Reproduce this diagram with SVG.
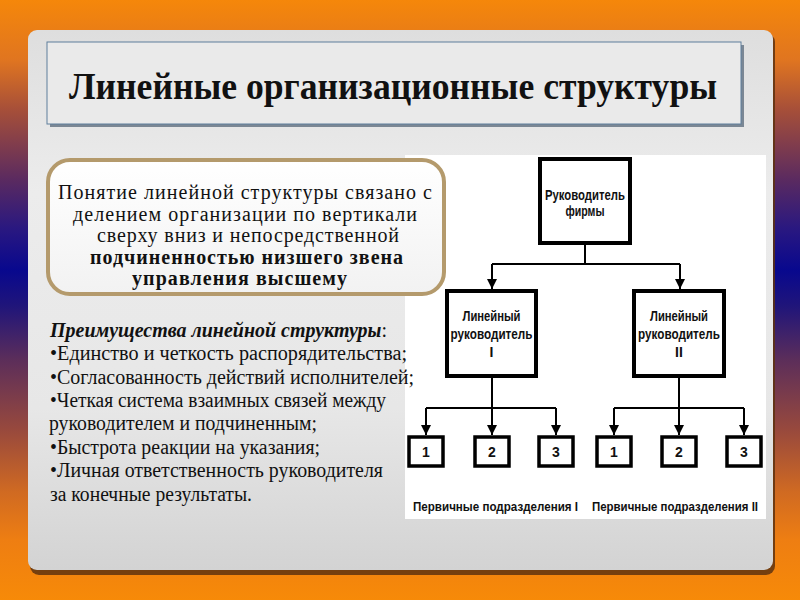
<svg xmlns="http://www.w3.org/2000/svg" width="800" height="600" viewBox="0 0 800 600">
<defs>
<linearGradient id="bg" x1="0" y1="0" x2="0" y2="1">
<stop offset="0" stop-color="#F5870A"/>
<stop offset="0.1" stop-color="#E07520"/>
<stop offset="0.18" stop-color="#A85038"/>
<stop offset="0.3" stop-color="#5A2A60"/>
<stop offset="0.38" stop-color="#2A1880"/>
<stop offset="0.45" stop-color="#08088E"/>
<stop offset="0.51" stop-color="#20157A"/>
<stop offset="0.6" stop-color="#5C2E5A"/>
<stop offset="0.72" stop-color="#9A4A3C"/>
<stop offset="0.82" stop-color="#D06A22"/>
<stop offset="0.9" stop-color="#EE7E12"/>
<stop offset="1" stop-color="#F78A08"/>
</linearGradient>
<linearGradient id="panel" x1="0" y1="0" x2="0" y2="1">
<stop offset="0" stop-color="#DEDEDE"/>
<stop offset="0.3" stop-color="#ECECEC"/>
<stop offset="0.7" stop-color="#E7E7E7"/>
<stop offset="1" stop-color="#D3D3D3"/>
</linearGradient>
<linearGradient id="concept" x1="0" y1="0" x2="0" y2="1">
<stop offset="0" stop-color="#FFFFFF"/>
<stop offset="1" stop-color="#F2F2F2"/>
</linearGradient>
<marker id="arr" viewBox="0 0 10 10" refX="10" refY="5" markerWidth="10" markerHeight="12" markerUnits="userSpaceOnUse" orient="auto">
<path d="M0,0 L10,5 L0,10 Z" fill="#000"/>
</marker>
<style>
.serif{font-family:"Liberation Serif","Times New Roman",serif;fill:#111;}
.sans{font-family:"Liberation Sans",Arial,sans-serif;fill:#111;font-weight:bold;}
.box{fill:#fff;stroke:#000;stroke-width:4;}
.sbox{fill:#fff;stroke:#000;stroke-width:3.5;}
.conn{fill:none;stroke:#000;stroke-width:2;}
.lbl{font-size:14px;text-anchor:middle;}
.dig{font-size:14px;text-anchor:middle;}
.cap{font-size:13px;}
.adv{font-size:20px;}
.cpt{font-size:20px;}
</style>
</defs>
<rect x="0" y="0" width="800" height="600" fill="url(#bg)"/>
<g id="panel-bg">
<rect x="30" y="33" width="745" height="542" rx="9" fill="#5E3210" opacity="0.85"/>
<rect x="28" y="30" width="745" height="540" rx="9" fill="url(#panel)"/>
</g>
<g id="title">
<rect x="50" y="45" width="694" height="82" fill="#7B8794"/>
<rect x="47" y="42" width="694" height="82" fill="#EAEAEA" stroke="#5F7F9C" stroke-width="1"/>
<text class="serif" x="69" y="99" font-size="37" font-weight="bold" textLength="648" lengthAdjust="spacingAndGlyphs">Линейные организационные структуры</text>
</g>
<rect id="chart-bg" x="405" y="155" width="361" height="364" fill="#FFFFFF"/>
<g id="concept-box">
<rect x="48" y="160" width="396" height="134" rx="22" fill="url(#concept)" stroke="#B49A6C" stroke-width="4"/>
<text class="serif cpt" x="58" y="199" textLength="374">Понятие линейной структуры связано с</text>
<text class="serif cpt" x="73" y="221" textLength="344">делением организации по вертикали</text>
<text class="serif cpt" x="97" y="242" textLength="302">сверху вниз и непосредственной</text>
<text class="serif cpt" x="90" y="264" font-weight="bold" textLength="313">подчиненностью низшего звена</text>
<text class="serif cpt" x="132" y="285" font-weight="bold" textLength="215">управления высшему</text>
</g>
<g id="advantages">
<text class="serif adv" x="50" y="337" textLength="337" lengthAdjust="spacingAndGlyphs"><tspan font-weight="bold" font-style="italic">Преимущества линейной структуры</tspan>:</text>
<text class="serif adv" x="50" y="360" textLength="357" lengthAdjust="spacingAndGlyphs">•Единство и четкость распорядительства;</text>
<text class="serif adv" x="50" y="384" textLength="364" lengthAdjust="spacingAndGlyphs">•Согласованность действий исполнителей;</text>
<text class="serif adv" x="50" y="407" textLength="336" lengthAdjust="spacingAndGlyphs">•Четкая система взаимных связей между</text>
<text class="serif adv" x="49" y="430" textLength="268" lengthAdjust="spacingAndGlyphs">руководителем и подчиненным;</text>
<text class="serif adv" x="50" y="454" textLength="270" lengthAdjust="spacingAndGlyphs">•Быстрота реакции на указания;</text>
<text class="serif adv" x="50" y="477" textLength="333" lengthAdjust="spacingAndGlyphs">•Личная ответственность руководителя</text>
<text class="serif adv" x="50" y="501" textLength="202" lengthAdjust="spacingAndGlyphs">за конечные результаты.</text>
</g>
<g id="connectors">
<path class="conn" d="M585,245 V264 M492,264 H680"/>
<path class="conn" d="M492,264 V289" marker-end="url(#arr)"/>
<path class="conn" d="M680,264 V289" marker-end="url(#arr)"/>
<path class="conn" d="M492,378 V408 M426,408 H556"/>
<path class="conn" d="M426,408 V435" marker-end="url(#arr)"/>
<path class="conn" d="M492,408 V435" marker-end="url(#arr)"/>
<path class="conn" d="M556,408 V435" marker-end="url(#arr)"/>
<path class="conn" d="M679,378 V408 M614,408 H744"/>
<path class="conn" d="M614,408 V435" marker-end="url(#arr)"/>
<path class="conn" d="M679,408 V435" marker-end="url(#arr)"/>
<path class="conn" d="M744,408 V435" marker-end="url(#arr)"/>
</g>
<g id="node-head">
<rect class="box" x="540" y="159" width="90" height="84"/>
<text class="sans lbl" x="585" y="200" textLength="80" lengthAdjust="spacingAndGlyphs">Руководитель</text>
<text class="sans lbl" x="585" y="216" textLength="39" lengthAdjust="spacingAndGlyphs">фирмы</text>
</g>
<g id="node-line1">
<rect class="box" x="447" y="291" width="89" height="85"/>
<text class="sans lbl" x="491.5" y="321" textLength="58" lengthAdjust="spacingAndGlyphs">Линейный</text>
<text class="sans lbl" x="491.5" y="339" textLength="82" lengthAdjust="spacingAndGlyphs">руководитель</text>
<text class="sans lbl" x="491.5" y="357">I</text>
</g>
<g id="node-line2">
<rect class="box" x="634" y="291" width="90" height="85"/>
<text class="sans lbl" x="679" y="321" textLength="58" lengthAdjust="spacingAndGlyphs">Линейный</text>
<text class="sans lbl" x="679" y="339" textLength="82" lengthAdjust="spacingAndGlyphs">руководитель</text>
<text class="sans lbl" x="679" y="357">II</text>
</g>
<g id="node-1-1"><rect class="sbox" x="409" y="437" width="34" height="29"/><text class="sans dig" x="426" y="457">1</text></g>
<g id="node-1-2"><rect class="sbox" x="475" y="437" width="34" height="29"/><text class="sans dig" x="492" y="457">2</text></g>
<g id="node-1-3"><rect class="sbox" x="539" y="437" width="34" height="29"/><text class="sans dig" x="556" y="457">3</text></g>
<g id="node-2-1"><rect class="sbox" x="597" y="437" width="34" height="29"/><text class="sans dig" x="614" y="457">1</text></g>
<g id="node-2-2"><rect class="sbox" x="662" y="437" width="34" height="29"/><text class="sans dig" x="679" y="457">2</text></g>
<g id="node-2-3"><rect class="sbox" x="727" y="437" width="34" height="29"/><text class="sans dig" x="744" y="457">3</text></g>
<g id="captions">
<text class="sans cap" x="413" y="511" textLength="165" lengthAdjust="spacingAndGlyphs">Первичные подразделения I</text>
<text class="sans cap" x="592" y="511" textLength="166" lengthAdjust="spacingAndGlyphs">Первичные подразделения II</text>
</g>
</svg>
